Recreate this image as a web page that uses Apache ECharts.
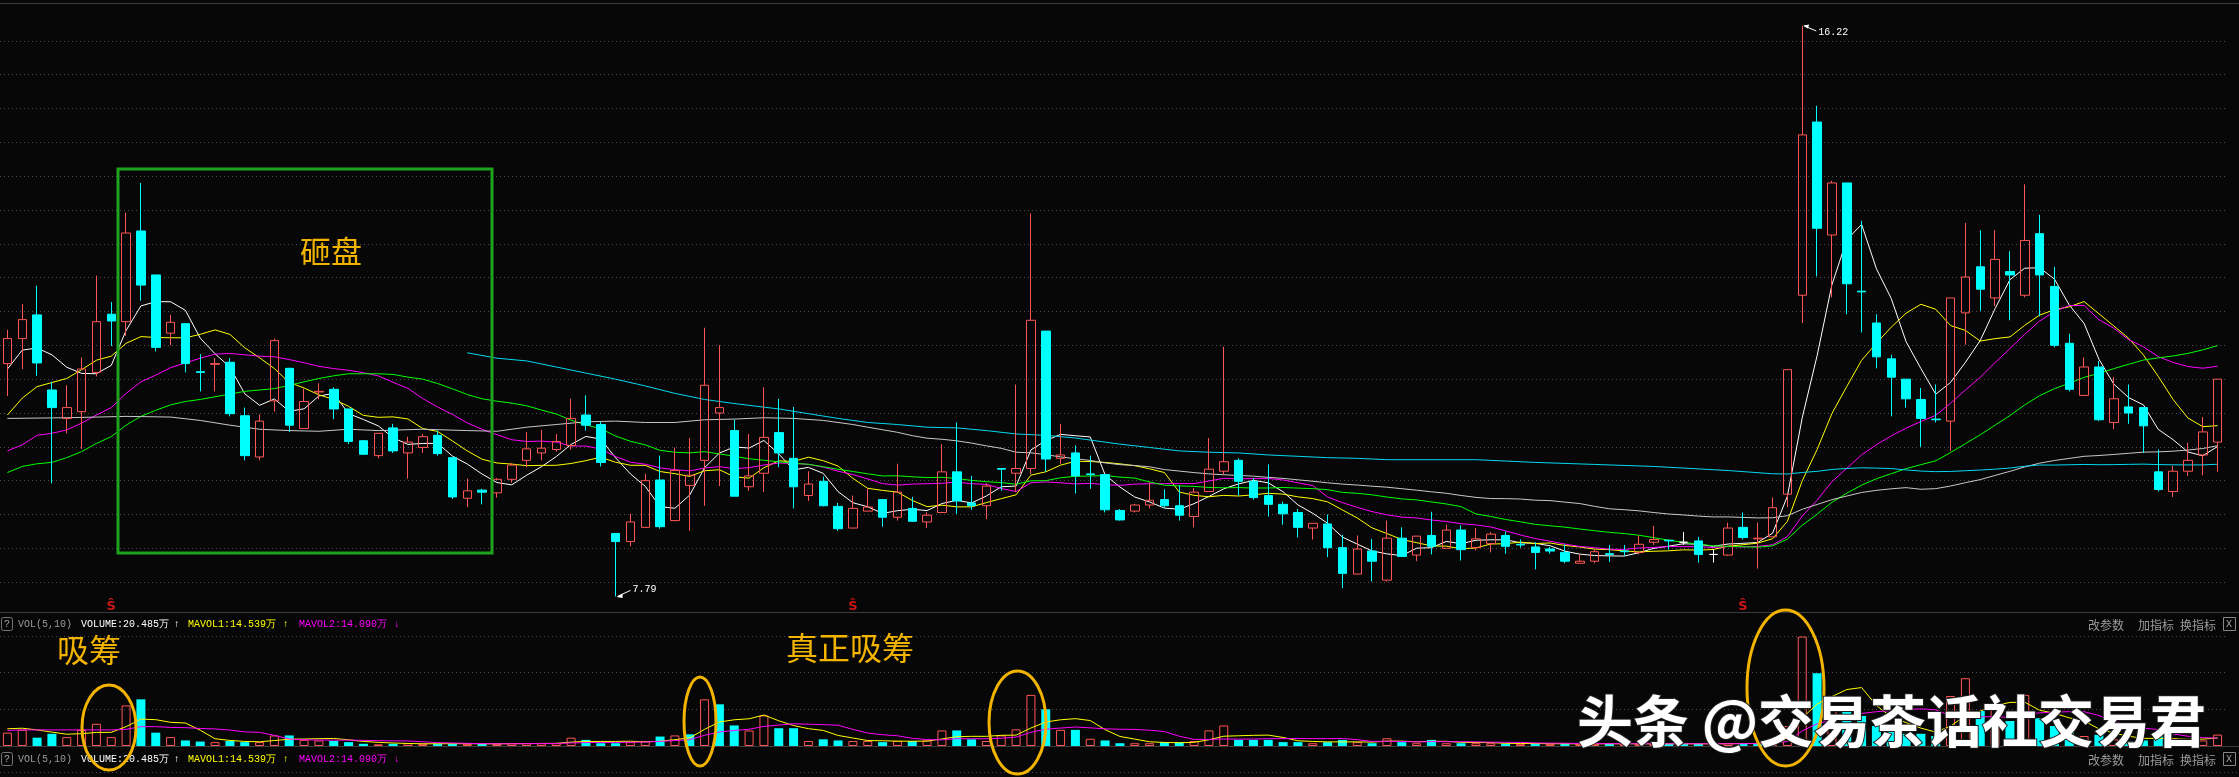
<!DOCTYPE html>
<html><head><meta charset="utf-8">
<script src="https://cdn.jsdelivr.net/npm/echarts@6/dist/echarts.min.js"></script>
<style>html,body{margin:0;padding:0;background:#070707;overflow:hidden}#c{width:2239px;height:777px}</style>
</head><body><div id="c"></div>
<script>
// ---- price data ----
const open = [11.23,11.60,11.95,10.84,10.42,10.52,11.10,11.96,11.85,13.19,12.54,11.68,11.82,11.11,11.22,11.25,10.46,9.85,10.68,11.16,
10.27,10.81,10.85,10.56,10.09,9.87,10.28,9.91,9.99,10.17,9.84,9.24,9.36,9.32,9.52,9.80,9.91,9.96,10.02,10.47,
10.33,8.72,8.60,8.81,9.51,8.91,9.43,9.80,10.50,10.24,9.41,9.61,10.21,9.83,9.28,9.49,9.12,8.80,9.05,9.22,
8.96,9.09,8.89,9.03,9.63,9.17,9.13,9.68,9.61,9.68,11.71,9.83,9.91,9.60,9.59,9.06,9.05,9.14,9.22,9.13,
8.97,9.34,9.64,9.80,9.49,9.28,9.15,9.03,8.80,8.86,8.51,8.12,8.46,8.03,8.65,8.40,8.69,8.50,8.77,8.51,
8.57,8.69,8.56,8.52,8.49,8.44,8.28,8.31,8.42,8.46,8.44,8.59,8.62,8.59,8.61,8.41,8.40,8.81,8.64,8.67,
9.30,12.24,14.80,13.13,13.90,12.30,11.83,11.30,11.00,10.70,10.41,10.38,11.98,12.66,12.20,12.59,12.24,13.15,12.37,11.53,
10.76,11.18,10.36,10.59,10.58,9.63,9.34,9.64,9.88,10.07];
const close = [11.60,11.88,11.24,10.58,10.58,11.15,11.85,11.86,13.16,12.39,11.47,11.84,11.23,11.10,11.23,10.49,9.87,10.38,11.57,10.32,
10.67,10.82,10.56,10.08,9.89,10.20,9.94,10.07,10.15,9.90,9.26,9.35,9.33,9.52,9.73,9.97,9.98,10.08,10.42,10.32,
9.77,8.60,8.89,9.50,8.82,9.65,9.58,10.91,10.58,9.27,9.57,10.14,9.91,9.41,9.45,9.13,8.79,9.09,9.11,8.96,
9.33,8.90,8.99,9.63,9.20,9.13,9.42,9.67,9.68,11.87,9.82,9.88,9.57,9.59,9.07,8.92,9.14,9.21,9.13,8.99,
9.33,9.67,9.78,9.49,9.25,9.15,9.01,8.81,8.87,8.51,8.13,8.49,8.31,8.65,8.38,8.68,8.53,8.77,8.48,8.64,
8.71,8.53,8.55,8.44,8.46,8.31,8.31,8.45,8.41,8.45,8.56,8.63,8.61,8.59,8.41,8.41,8.80,8.66,8.65,9.10,
11.14,14.61,13.23,13.90,12.41,12.29,11.33,11.03,10.71,10.42,10.40,12.20,12.51,12.33,12.77,12.54,13.05,12.54,11.50,10.85,
11.18,10.40,10.71,10.50,10.31,9.37,9.64,9.80,10.22,11.00];
const high = [11.73,12.11,12.38,10.96,10.91,11.32,12.53,12.14,13.46,13.90,12.54,11.95,11.82,11.37,11.31,11.31,10.58,10.48,11.60,11.17,
10.86,10.94,10.88,10.56,10.10,10.20,10.34,10.15,10.19,10.24,9.84,9.53,9.38,9.54,9.76,10.22,10.25,10.19,10.71,10.76,
10.37,8.72,9.01,9.60,9.87,9.99,10.13,11.76,11.50,10.40,10.19,10.88,10.71,10.59,9.64,9.56,9.17,9.28,9.39,9.23,
9.75,9.26,9.03,10.04,10.36,9.57,9.46,9.68,10.92,13.45,11.71,10.34,10.02,9.87,9.59,9.08,9.16,9.48,9.37,9.43,
9.39,10.13,11.48,9.83,9.54,9.74,9.19,9.08,8.87,9.00,8.70,8.69,8.64,8.91,8.81,8.68,9.04,8.85,8.84,8.80,
8.74,8.75,8.63,8.59,8.52,8.56,8.41,8.49,8.55,8.55,8.69,8.83,8.63,8.74,8.67,8.49,8.88,9.03,8.88,9.25,
11.14,16.22,15.04,13.93,13.90,13.34,11.96,11.36,11.00,10.87,10.92,12.20,13.31,13.20,13.20,12.89,13.88,13.43,12.66,11.67,
11.32,11.27,11.03,10.92,10.58,9.96,9.72,10.06,10.44,11.00];
const low = [10.75,11.15,11.05,9.46,10.20,9.97,11.04,11.49,11.64,12.16,11.41,11.50,11.10,10.82,10.82,10.45,9.80,9.80,10.52,10.22,
10.27,10.70,10.41,10.04,9.88,9.83,9.91,9.53,9.91,9.87,9.23,9.11,9.15,9.25,9.47,9.70,9.80,9.93,9.96,10.24,
9.71,7.79,8.53,8.81,8.79,8.91,8.76,9.13,9.42,9.27,9.35,9.33,9.70,9.09,9.20,9.12,8.76,8.80,9.05,8.82,
8.91,8.89,8.80,9.03,9.01,9.07,8.93,9.35,9.33,9.60,9.63,9.75,9.31,9.38,9.03,8.91,9.03,9.09,9.10,8.91,
8.81,9.34,9.59,9.28,9.22,8.97,8.85,8.66,8.63,8.37,7.91,8.12,8.01,8.01,8.38,8.31,8.41,8.50,8.32,8.47,
8.44,8.42,8.51,8.19,8.42,8.28,8.28,8.28,8.30,8.39,8.41,8.55,8.48,8.55,8.29,8.29,8.39,8.63,8.20,8.67,
9.11,11.83,12.52,12.21,11.96,11.69,11.16,10.45,10.58,10.00,10.36,9.94,11.51,12.01,12.08,11.87,12.21,11.93,11.47,10.82,
10.76,10.38,10.26,10.34,9.91,9.34,9.26,9.57,9.58,9.63];
// volume in 万
const volume = [24,29,15,22,16,29,40,16,73,84, 24,16,10,8,7,9,7,7,19,19,
11,10,9,7,4,3,4,5,4,4, 4,4,4,4,5,5,5,5,15,11,
5,5,7,9,17,19,21,84,75,37, 28,55,32,32,9,12,10,9,9,7,
9,9,10,28,28,12,9,19,30,92, 66,29,29,13,10,5,5,5,7,7,
9,28,37,11,11,11,7,7,5,7, 11,7,5,14,7,5,11,5,5,5,
5,4,4,4,4,4,4,4,4,4, 4,4,4,4,4,4,5,5,5,9,
36,197,131,72,72,54,36,27,22,22, 18,90,122,63,72,45,92,50,36,30,
18,20,12,8,10,20,14,8,10,20.485];
// leading MA values (history before the visible window)
const ma5Lead = [11.15,11.43,11.46,11.36];
const ma10Lead = [10.47,10.72,10.89,10.95,11.01,11.14,11.28,11.34,11.53];
const ma20Lead = [9.94,10.03,10.17,10.20,10.25,10.35,10.47,10.58,10.79,10.96,11.06,11.17,11.24,11.31,11.37,11.38,11.36,11.34,11.33];
const ma30Lead = [9.62,9.71,9.75,9.77,9.84,9.93,10.05,10.15,10.32,10.45,10.54,10.62,10.67,10.70,10.74,10.78,10.82,10.84,10.86,10.91,10.96,11.01,11.05,11.08,11.08,11.08,11.07,11.03,11.00];
const ma60LeadIdx = [0,4,8,11,13,15,17,19,21,23,25,28,31,33,35,37,39,41,43,45,47,49,51,53,55,57,58];
const ma60LeadVal = [10.42,10.43,10.45,10.44,10.39,10.32,10.26,10.24,10.23,10.26,10.24,10.26,10.24,10.23,10.29,10.33,10.37,10.38,10.36,10.36,10.40,10.41,10.43,10.42,10.39,10.33,10.29];
const ma120LeadIdx = [31,33,35,37,39,41,43,45,47,49,52,54,56,58,60,62,64,66,68,70,72,74,75,77,79,81,83,85,87,89,91,93,99,103,107,111,116];
const ma120LeadVal = [11.39,11.31,11.27,11.18,11.09,11.00,10.90,10.79,10.70,10.64,10.56,10.49,10.42,10.36,10.33,10.29,10.28,10.24,10.19,10.17,10.13,10.07,10.04,9.99,9.94,9.92,9.91,9.88,9.86,9.84,9.83,9.81,9.81,9.77,9.74,9.71,9.65];
const volMa5Lead = [31,32,29,25];
const volMa10Lead = [28,29,29,29,29,29,29,29,30];
const signalIdx = [7,57,117];
const priceGrid = {min:7.5, max:16.5, step:0.5};

const N = close.length;
const cats = close.map((_, i) => String(i + 1));
function movingAvg(src, n, lead) {
  const out = [];
  for (let i = 0; i < src.length; i++) {
    if (i < n - 1) { out.push(lead && lead[i] !== undefined ? lead[i] : null); continue; }
    let s = 0; for (let k = i - n + 1; k <= i; k++) s += src[k];
    out.push(+(s / n).toFixed(4));
  }
  return out;
}
function sparseLead(n, idx, val) {
  const lead = new Array(n - 1).fill(undefined);
  idx.forEach((ix, j) => { lead[ix] = val[j]; });
  return lead;
}
const ma5 = movingAvg(close, 5, ma5Lead);
const ma10 = movingAvg(close, 10, ma10Lead);
const ma20 = movingAvg(close, 20, ma20Lead);
const ma30 = movingAvg(close, 30, ma30Lead);
const ma60 = movingAvg(close, 60, sparseLead(60, ma60LeadIdx, ma60LeadVal));
const ma120 = movingAvg(close, 120, sparseLead(120, ma120LeadIdx, ma120LeadVal));
const volMa5 = movingAvg(volume, 5, volMa5Lead);
const volMa10 = movingAvg(volume, 10, volMa10Lead);

const RED = '#ff5555', CYAN = '#00ffff';
const volData = volume.map((v, i) => {
  const up = i === 0 ? true : close[i] >= close[i - 1];
  return { value: v, itemStyle: up ? { color: 'transparent', borderColor: RED, borderWidth: 1 } : { color: CYAN, borderColor: CYAN, borderWidth: 0 } };
});

function maLine(data, color, x, y) {
  return { type: 'line', data, xAxisIndex: x, yAxisIndex: y, symbol: 'none', connectNulls: true, silent: true,
    lineStyle: { color, width: 1 }, z: 3 };
}
const dotted = { color: '#4e4e4e', type: [1, 3], width: 1 };
const hideAxis = { axisLine: { show: false }, axisTick: { show: false }, axisLabel: { show: false } };

const chart = echarts.init(document.getElementById('c'));
const option = {
  backgroundColor: '#070707',
  animation: false,
  grid: [
    { left: -1, width: 2226, top: 7, height: 609 },
    { left: -1, width: 2226, top: 636, height: 110 }
  ],
  xAxis: [
    { type: 'category', data: cats, gridIndex: 0, boundaryGap: true, show: false },
    { type: 'category', data: cats, gridIndex: 1, boundaryGap: true, show: false }
  ],
  yAxis: [
    Object.assign({ gridIndex: 0, type: 'value', min: priceGrid.min, max: priceGrid.max, interval: priceGrid.step,
      splitLine: { show: true, showMinLine: false, showMaxLine: false, lineStyle: dotted } }, hideAxis),
    Object.assign({ gridIndex: 1, type: 'value', min: 0, max: 198, interval: 66,
      splitLine: { show: true, showMinLine: false, showMaxLine: true, lineStyle: dotted } }, hideAxis)
  ],
  series: [
    { type: 'candlestick', xAxisIndex: 0, yAxisIndex: 0, barWidth: 9, z: 4,
      data: open.map((o, i) => [o, close[i], low[i], high[i]]),
      itemStyle: { color: 'transparent', color0: CYAN, borderColor: RED, borderColor0: CYAN, borderColorDoji: '#ffffff', borderWidth: 1 } },
    maLine(ma5, '#ffffff', 0, 0),
    maLine(ma10, '#ffff00', 0, 0),
    maLine(ma20, '#ff00ff', 0, 0),
    maLine(ma30, '#00ff00', 0, 0),
    maLine(ma60, '#c8c8c8', 0, 0),
    maLine(ma120, '#00d8f0', 0, 0),
    { type: 'scatter', xAxisIndex: 0, yAxisIndex: 0, symbolSize: 0, silent: true,
      data: signalIdx.map(i => [i, 7.64]),
      label: { show: true, formatter: 'Ŝ', color: '#ff1a1a', fontSize: 13, fontWeight: 'bold', fontFamily: 'DejaVu Sans', position: 'inside' } },
    { type: 'bar', xAxisIndex: 1, yAxisIndex: 1, barWidth: 9, data: volData, z: 2 },
    maLine(volMa5, '#ffff00', 1, 1),
    maLine(volMa10, '#ff00ff', 1, 1)
  ]
};
chart.setOption(option);

// ---- annotations & decorations ----
let hiIdx = 0, loIdx = 0;
high.forEach((h, i) => { if (h > high[hiIdx]) hiIdx = i; });
low.forEach((l, i) => { if (l < low[loIdx]) loIdx = i; });
const pHi = chart.convertToPixel({ xAxisIndex: 0, yAxisIndex: 0 }, [hiIdx, high[hiIdx]]);
const pLo = chart.convertToPixel({ xAxisIndex: 0, yAxisIndex: 0 }, [loIdx, low[loIdx]]);
const mono = '10px "Liberation Mono", "DejaVu Sans Mono", monospace';
const cn12 = '12px "Noto Sans CJK SC"';
function txt(x, y, text, fill, font, align) {
  return { type: 'text', x, y, silent: true, z: 50, style: { text, fill, font, align: align || 'left', verticalAlign: 'middle', textAlign: align || 'left', textVerticalAlign: 'middle' } };
}
function hline(y, color, dash) {
  return { type: 'line', silent: true, z: 1, shape: { x1: 0, y1: y, x2: 2239, y2: y }, style: { stroke: color, lineWidth: 1, lineDash: dash || null } };
}
function header(y) {
  return [
    { type: 'rect', silent: true, z: 50, shape: { x: 1.5, y: y - 6.5, width: 11, height: 13, r: 2 }, style: { fill: 'none', stroke: '#777', lineWidth: 1 } },
    txt(4, y, '?', '#aaa', mono),
    txt(18, y, 'VOL(5,10)', '#9a9a9a', mono),
    txt(81, y, 'VOLUME:20.485万', '#ffffff', mono),
    txt(174, y, '↑', '#ffffff', mono),
    txt(188, y, 'MAVOL1:14.539万', '#ffff00', mono),
    txt(283, y, '↑', '#ffff00', mono),
    txt(299, y, 'MAVOL2:14.090万', '#ff00ff', mono),
    txt(394, y, '↓', '#ff00ff', mono),
    txt(2088, y + 1, '改参数', '#9a9a9a', cn12),
    txt(2138, y + 1, '加指标', '#9a9a9a', cn12),
    txt(2180, y + 1, '换指标', '#9a9a9a', cn12),
    { type: 'rect', silent: true, z: 50, shape: { x: 2223.5, y: y - 6.5, width: 12, height: 13 }, style: { fill: 'none', stroke: '#888', lineWidth: 1 } },
    txt(2226, y, 'X', '#aaa', mono)
  ];
}
const gold = '#f2b400';
function ell(cx, cy, rx, ry) {
  return { type: 'ellipse', silent: true, z: 60, shape: { cx, cy, rx, ry }, style: { fill: 'none', stroke: gold, lineWidth: 3 } };
}
const elements = [
  hline(3.5, '#3c3c3c'),
  hline(612.5, '#3c3c3c'),
  hline(746.5, '#3c3c3c'),
  hline(772.5, '#4e4e4e', [1, 3]),
  ...header(624),
  ...header(759),
  // price labels
  { type: 'polyline', silent: true, z: 50, shape: { points: [[pHi[0] + 2, pHi[1]], [pHi[0] + 14, pHi[1] + 5]] }, style: { stroke: '#fff', lineWidth: 1 } },
  { type: 'polygon', silent: true, z: 50, shape: { points: [[pHi[0] + 1, pHi[1] - 0.5], [pHi[0] + 7, pHi[1] - 1.5], [pHi[0] + 5.5, pHi[1] + 2.5]] }, style: { fill: '#fff' } },
  txt(pHi[0] + 16, pHi[1] + 6, String(high[hiIdx]), '#ffffff', mono),
  { type: 'polyline', silent: true, z: 50, shape: { points: [[pLo[0] + 2, pLo[1]], [pLo[0] + 15, pLo[1] - 6]] }, style: { stroke: '#fff', lineWidth: 1 } },
  { type: 'polygon', silent: true, z: 50, shape: { points: [[pLo[0] + 1, pLo[1] + 0.5], [pLo[0] + 7, pLo[1] - 3], [pLo[0] + 7, pLo[1] + 1.5]] }, style: { fill: '#fff' } },
  txt(pLo[0] + 17, pLo[1] - 7, String(low[loIdx]), '#ffffff', mono),
  // hand-drawn annotations
  { type: 'rect', silent: true, z: 60, shape: { x: 118, y: 169, width: 374, height: 384 }, style: { fill: 'none', stroke: '#1fa31f', lineWidth: 3 } },
  txt(300, 251, '砸盘', gold, '31px "Noto Sans CJK SC"'),
  txt(57, 650, '吸筹', gold, '32px "Noto Sans CJK SC"'),
  txt(786, 648, '真正吸筹', gold, '32px "Noto Sans CJK SC"'),
  ell(109, 727.5, 27, 42.5),
  ell(700, 721.5, 16, 44.5),
  ell(1017.5, 722.5, 28.5, 51.5),
  ell(1785.5, 688, 38.5, 78),
  { type: 'text', x: 1577, y: 721, silent: true, z: 70, style: { text: '头条 @交易茶话社交易君', fill: '#ffffff', font: 'bold 56px "Noto Sans CJK SC"', align: 'left', verticalAlign: 'middle', textAlign: 'left', textVerticalAlign: 'middle', stroke: '#202020', lineWidth: 2, shadowBlur: 8, shadowColor: 'rgba(0,0,0,0.95)', shadowOffsetX: 2, shadowOffsetY: 2 } }
];
chart.setOption({ graphic: { elements } });
</script></body></html>
